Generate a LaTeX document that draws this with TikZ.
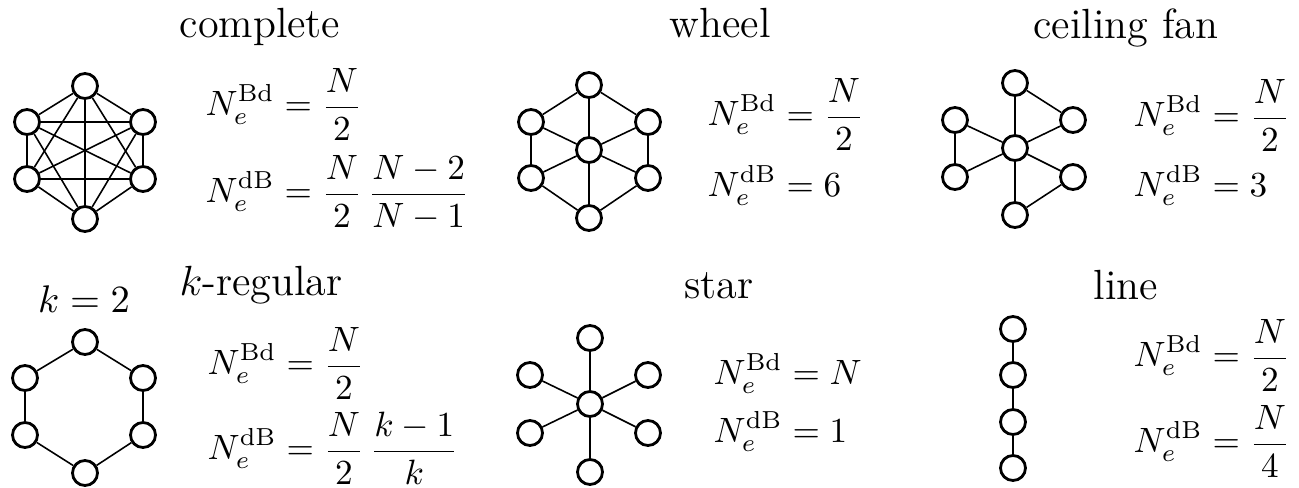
\documentclass[tikz,border=0pt]{standalone}
\usepackage{amsmath,amssymb}
\usepackage{tikz}
\usetikzlibrary{positioning}
\newcommand{\NBd}{N_e^{\text{Bd}}}
\newcommand{\NdB}{N_e^{\text{dB}}}

\begin{document}
\begin{tikzpicture}[x=0.01cm, y=-0.01cm,
    vertex/.style={circle, draw, line width=0.8pt, fill=white,
        minimum size=0.25cm, inner sep=0pt},
    link/.style={draw, line width=0.45pt},
    title/.style={anchor=base, font=\large, inner sep=0pt},
    formula/.style={anchor=base west, inner sep=0pt}
    ]
    \useasboundingbox (0,0) rectangle (1299,488);

    % Titles
    \node [title] (tcomplete) at (260,38) {complete};
    \node [title] (twheel) at (720,38) {wheel};
    \node [title] (tfan) at (1126,39) {ceiling fan};
    \node [title] (tregular) at (261,296) {$k$-regular};
    \node [title] (tstar) at (719,299) {star};
    \node [title] (tline) at (1126,300) {line};
    \node [anchor=base, inner sep=0pt, font=\fontsize{11}{13}\selectfont] (kval) at (84,313) {$k=2$};

    % Complete graph
    \node [vertex] (c1) at (85,86) {};
    \node [vertex] (c2) at (27,122) {};
    \node [vertex] (c3) at (143,122) {};
    \node [vertex] (c4) at (27,179) {};
    \node [vertex] (c5) at (143,179) {};
    \node [vertex] (c6) at (85,219) {};
    \draw[link] (c1) -- (c2) (c1) -- (c3) (c1) -- (c4) (c1) -- (c5) (c1) -- (c6);
    \draw[link] (c2) -- (c3) (c2) -- (c4) (c2) -- (c5) (c2) -- (c6);
    \draw[link] (c3) -- (c4) (c3) -- (c5) (c3) -- (c6);
    \draw[link] (c4) -- (c5) (c4) -- (c6);
    \draw[link] (c5) -- (c6);
    \node [formula] (ceqa) at (205,116) {$\displaystyle \NBd = \frac{N}{2}$};
    \node [formula] (ceqb) at (205,203) {$\displaystyle \NdB = \frac{N}{2}\,\frac{N-2}{N-1}$};

    % Wheel
    \node [vertex] (w1) at (589,85) {};
    \node [vertex] (w2) at (531,122) {};
    \node [vertex] (w3) at (648,122) {};
    \node [vertex] (w0) at (589,150) {};
    \node [vertex] (w4) at (531,178) {};
    \node [vertex] (w5) at (648,178) {};
    \node [vertex] (w6) at (589,218) {};
    \draw[link] (w1) -- (w2) -- (w4) -- (w6) -- (w5) -- (w3) -- (w1);
    \draw[link] (w0) -- (w1) (w0) -- (w2) (w0) -- (w3) (w0) -- (w4) (w0) -- (w5) (w0) -- (w6);
    \node [formula] (weqa) at (707,126) {$\displaystyle \NBd = \frac{N}{2}$};
    \node [formula] (weqb) at (707,197) {$\displaystyle \NdB = 6$};

    % Ceiling fan
    \node [vertex] (f1) at (1015,83) {};
    \node [vertex] (f2) at (955,120) {};
    \node [vertex] (f3) at (1073,120) {};
    \node [vertex] (f0) at (1015,148) {};
    \node [vertex] (f4) at (955,177) {};
    \node [vertex] (f5) at (1073,177) {};
    \node [vertex] (f6) at (1015,215) {};
    \draw[link] (f0) -- (f1) -- (f3) -- (f0);
    \draw[link] (f0) -- (f2) -- (f4) -- (f0);
    \draw[link] (f0) -- (f5) -- (f6) -- (f0);
    \node [formula] (feqa) at (1133,127) {$\displaystyle \NBd = \frac{N}{2}$};
    \node [formula] (feqb) at (1133,197) {$\displaystyle \NdB = 3$};

    % k-regular
    \node [vertex] (r1) at (85,342) {};
    \node [vertex] (r2) at (25,378) {};
    \node [vertex] (r3) at (143,378) {};
    \node [vertex] (r4) at (25,435) {};
    \node [vertex] (r5) at (143,435) {};
    \node [vertex] (r6) at (85,473) {};
    \draw[link] (r1) -- (r2) -- (r4) -- (r6) -- (r5) -- (r3) -- (r1);
    \node [formula] (reqa) at (207,375) {$\displaystyle \NBd = \frac{N}{2}$};
    \node [formula] (reqb) at (207,460) {$\displaystyle \NdB = \frac{N}{2}\,\frac{k-1}{k}$};

    % Star
    \node [vertex] (s1) at (590,338) {};
    \node [vertex] (s2) at (530,375) {};
    \node [vertex] (s3) at (648,375) {};
    \node [vertex] (s0) at (590,404) {};
    \node [vertex] (s4) at (530,433) {};
    \node [vertex] (s5) at (648,433) {};
    \node [vertex] (s6) at (590,472) {};
    \draw[link] (s0) -- (s1) (s0) -- (s2) (s0) -- (s3) (s0) -- (s4) (s0) -- (s5) (s0) -- (s6);
    \node [formula] (seqa) at (713,385) {$\displaystyle \NBd = N$};
    \node [formula] (seqb) at (713,443) {$\displaystyle \NdB = 1$};

    % Line
    \node [vertex] (l1) at (1013,329) {};
    \node [vertex] (l2) at (1013,375) {};
    \node [vertex] (l3) at (1013,422) {};
    \node [vertex] (l4) at (1013,468) {};
    \draw[link] (l1) -- (l2) -- (l3) -- (l4);
    \node [formula] (leqa) at (1133,367) {$\displaystyle \NBd = \frac{N}{2}$};
    \node [formula] (leqb) at (1133,453) {$\displaystyle \NdB = \frac{N}{4}$};
\end{tikzpicture}
\end{document}
